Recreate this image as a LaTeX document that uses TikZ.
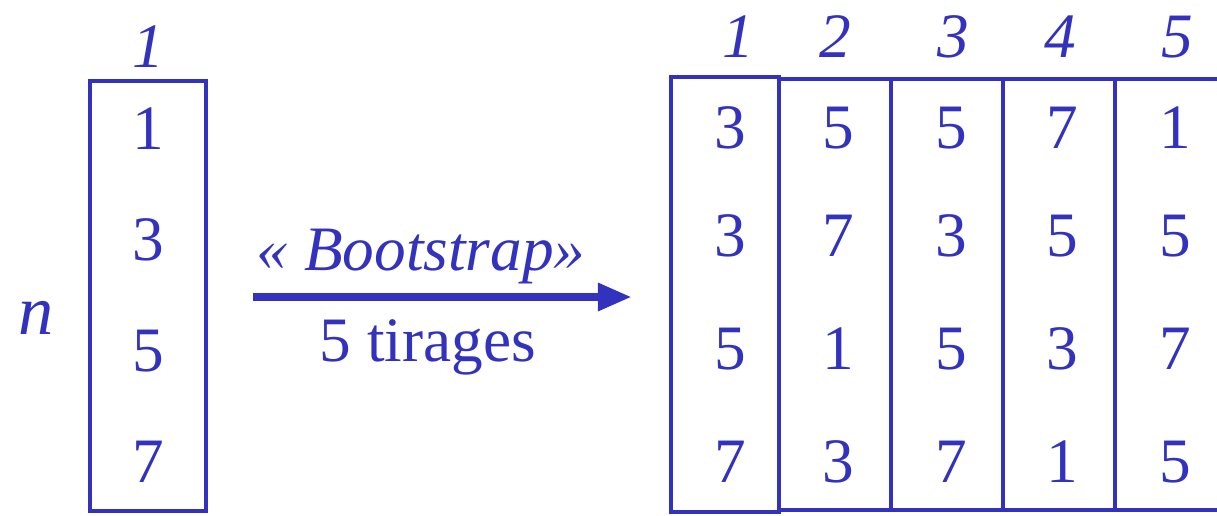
\documentclass[tikz,border=0pt]{standalone}
\usepackage{fontspec}
\setmainfont{Liberation Serif}
\usetikzlibrary{arrows.meta}
\definecolor{bsblue}{RGB}{50,50,190}

\begin{document}
\begin{tikzpicture}[x=0.025cm, y=-0.025cm,
    every node/.style={text=bsblue, font=\fontsize{45}{48}\selectfont},
    colbox/.style={draw=bsblue, line width=3pt}]
  \useasboundingbox (0,0) rectangle (1217,515);
  \draw[colbox] (90,81) rectangle (206,511);
  \node (origtop) at (148,47) {\textit{1}};
  \foreach \v [count=\i] in {1,3,5,7} {
    \node (orig\i) at (148,{129+111*(\i-1)}) {\v};
  }
  \node[font=\fontsize{50}{52}\selectfont\itshape] (nlbl) at (36,318) {n};
  \draw[colbox] (671,77) rectangle (779,512);
  \foreach \x in {779,891,1003,1115} {
    \draw[colbox] (\x,79) rectangle +(112,431);
  }
  \foreach \x/\t [count=\c] in {738/1,835/2,953/3,1060/4,1177/5} {
    \node (head\c) at (\x,37) {\textit{\t}};
  }
  \foreach \y/\a/\b/\cc/\d/\e [count=\r] in {128/3/5/5/7/1, 236/3/7/3/5/5, 349/5/1/5/3/7, 462/7/3/7/1/5} {
    \node (s\r-1) at (730,\y) {\a};
    \node (s\r-2) at (838,\y) {\b};
    \node (s\r-3) at (951,\y) {\cc};
    \node (s\r-4) at (1062,\y) {\d};
    \node (s\r-5) at (1175,\y) {\e};
  }
  \coordinate (arrfrom) at (253,297);
  \coordinate (arrto) at (632,297);
  \draw[bsblue, line width=6pt, -{Triangle[length=0.85cm, width=0.65cm]}] (arrfrom) -- (arrto);
  \node (boot) at (421,257) {\textit{« Bootstrap»}};
  \node (tirages) at (428,347) {5 tirages};
\end{tikzpicture}
\end{document}
